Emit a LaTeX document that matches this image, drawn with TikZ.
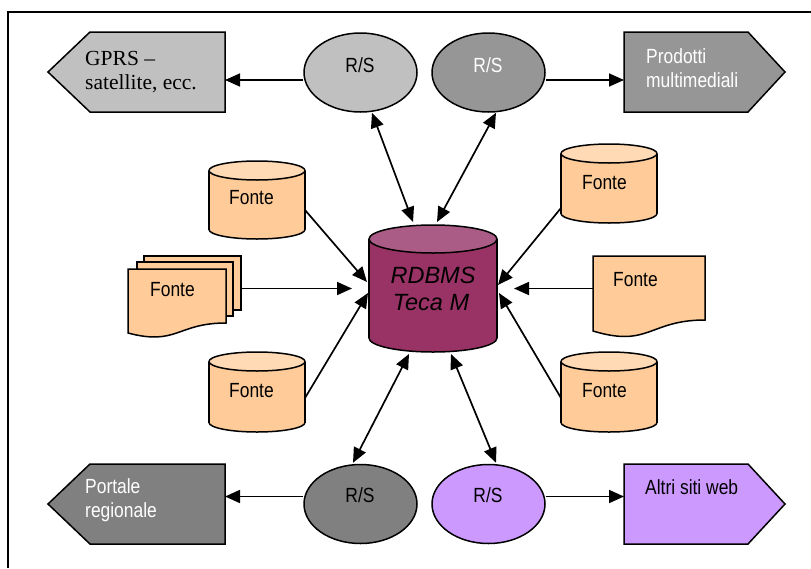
\documentclass[tikz,border=0pt]{standalone}
\usepackage{fontspec}
\setmainfont{Liberation Serif}
\newfontfamily\labelfont[FakeStretch=0.85]{Liberation Sans}
\newfontfamily\dbfont{Liberation Sans}
\usetikzlibrary{arrows.meta,calc,shapes.geometric}

\definecolor{grayA}{HTML}{C0C0C0}
\definecolor{grayB}{HTML}{969696}
\definecolor{grayC}{HTML}{808080}
\definecolor{lilac}{HTML}{CC99FF}
\definecolor{peach}{HTML}{FFCC99}
\definecolor{peachtop}{HTML}{FFDAB4}
\definecolor{plum}{HTML}{993366}
\definecolor{plumtop}{HTML}{AA5C86}

% upright cylinder: centre x, top y, width, height, end radius, body colour, lid colour
\newcommand\drawcyl[7]{%
  \pgfmathsetmacro\cyA{#1-#3/2}%
  \pgfmathsetmacro\cyB{#1+#3/2}%
  \pgfmathsetmacro\cyT{#2+#5}%
  \pgfmathsetmacro\cyD{#2+#4-#5}%
  \pgfmathsetmacro\cyR{#3/2}%
  \filldraw[shapeline, fill=#6] (#1,\cyD) ellipse [x radius=\cyR, y radius=#5];
  \fill[#6] (\cyA,\cyT) rectangle (\cyB,\cyD);
  \draw[shapeline] (\cyA,\cyT) -- (\cyA,\cyD) (\cyB,\cyT) -- (\cyB,\cyD);
  \filldraw[shapeline, fill=#7] (#1,\cyT) ellipse [x radius=\cyR, y radius=#5];
}

\begin{document}
\begin{tikzpicture}[x=1pt, y=-1pt,
  shapeline/.style={draw=black, line width=1.5pt, line join=miter},
  hit/.style 2 args={inner sep=0, outer sep=0, minimum width=#1, minimum height=#2},
  rsnode/.style={ellipse, shapeline, fill=#1, inner sep=0, minimum width=113, minimum height=79},
  txt/.style={font=\labelfont\fontsize{20.5}{24}\selectfont, inner sep=0, anchor=base west},
  ctxt/.style={txt, anchor=base},
  serif/.style={font=\fontsize{21.5}{24}\selectfont, inner sep=0, anchor=base west},
  dbtxt/.style={font=\dbfont\itshape\fontsize{23.5}{27}\selectfont, inner sep=0, anchor=base},
  arr/.style={line width=1.7pt, -{Triangle[length=15pt,width=13pt]}},
  darr/.style={line width=1.7pt, {Triangle[length=15pt,width=13pt]}-{Triangle[length=15pt,width=13pt]}}
]
\useasboundingbox (0,0) rectangle (811,568);

% outer frame
\draw[line width=2.2pt, line join=miter] (8,568) -- (8,12) -- (811,12);

% ---- output targets (pentagon tags)
\node[hit={135}{80}] (gprs) at (157.5,72) {};
\filldraw[shapeline, fill=grayA] (gprs.north west) -- (gprs.north east) -- (gprs.south east)
  -- (gprs.south west) -- ($(gprs.west)+(-42,0)$) -- cycle;
\node[hit={124}{80}] (prod) at (686,72) {};
\filldraw[shapeline, fill=grayB] (prod.north west) -- (prod.north east) -- ($(prod.east)+(37,0)$)
  -- (prod.south east) -- (prod.south west) -- cycle;
\node[hit={135}{80}] (port) at (157.5,504) {};
\filldraw[shapeline, fill=grayC] (port.north west) -- (port.north east) -- (port.south east)
  -- (port.south west) -- ($(port.west)+(-42,0)$) -- cycle;
\node[hit={124}{80}] (altri) at (686,504) {};
\filldraw[shapeline, fill=lilac] (altri.north west) -- (altri.north east) -- ($(altri.east)+(37,0)$)
  -- (altri.south east) -- (altri.south west) -- cycle;

% ---- R/S ellipses
\node[rsnode=grayA] (rs1) at (360.5,72.5) {};
\node[rsnode=grayB] (rs2) at (488.5,72.5) {};
\node[rsnode=grayC] (rs3) at (360.5,504) {};
\node[rsnode=lilac] (rs4) at (488.5,504) {};

% ---- central database
\node[hit={128}{127}] (db) at (433,288.5) {};
\drawcyl{433}{225}{128}{127}{14}{plum}{plumtop}

% ---- source cylinders
\node[hit={96}{78}] (fl1) at (257,200) {};
\drawcyl{257}{161}{96}{78}{9.5}{peach}{peachtop}
\node[hit={96}{80}] (fl3) at (257,392) {};
\drawcyl{257}{352}{96}{80}{9.5}{peach}{peachtop}
\node[hit={96}{79}] (fr1) at (609,183.5) {};
\drawcyl{609}{144}{96}{79}{9.5}{peach}{peachtop}
\node[hit={96}{80}] (fr3) at (609,392) {};
\drawcyl{609}{352}{96}{80}{9.5}{peach}{peachtop}

% ---- multi-page document source
\node[hit={113}{81}] (fmd) at (184.5,296.5) {};
\filldraw[shapeline, fill=peach] (144,256) rectangle (241,310);
\filldraw[shapeline, fill=peach] (137,262) rectangle (233,316);
\filldraw[shapeline, fill=peach] (128,269) -- (226,269) -- (226,323)
  .. controls (177,323) and (177,346) .. (128,333) -- cycle;

% ---- single document source
\node[hit={112}{80}] (fdr) at (649,296) {};
\filldraw[shapeline, fill=peach] (593,256) -- (705,256) -- (705,320)
  .. controls (649,320) and (649,348) .. (593,331) -- cycle;

% ---- labels
\node[serif] (t-gprs1) at (85,65) {GPRS –};
\node[serif] (t-gprs2) at (85,89) {satellite, ecc.};
\node[txt, text=white] (t-prod1) at (646,63) {Prodotti};
\node[txt, text=white] (t-prod2) at (646,87) {multimediali};
\node[txt, text=white] (t-port1) at (85,493) {Portale};
\node[txt, text=white] (t-port2) at (85,517) {regionale};
\node[txt] (t-altri) at (645,494) {Altri siti web};
\node[ctxt] (t-rs1) at (360,72) {R/S};
\node[ctxt, text=white] (t-rs2) at (488,72) {R/S};
\node[ctxt] (t-rs3) at (360,502) {R/S};
\node[ctxt] (t-rs4) at (488,502) {R/S};
\node[dbtxt] (t-db1) at (433,283) {RDBMS};
\node[dbtxt] (t-db2) at (431,310) {Teca M};
\node[txt] (t-fl1) at (229,204) {Fonte};
\node[txt] (t-fmd) at (150,296) {Fonte};
\node[txt] (t-fl3) at (229,397) {Fonte};
\node[txt] (t-fr1) at (582,189) {Fonte};
\node[txt] (t-fdr) at (613,286) {Fonte};
\node[txt] (t-fr3) at (582,397) {Fonte};

% ---- connectors
\draw[arr] ($(rs1.west)+(0,7.5)$) -- ($(gprs.east)+(0,8)$);
\draw[arr] ($(rs2.east)+(0,7.5)$) -- ($(prod.west)+(0,8)$);
\draw[arr] ($(rs3.west)+(0,-7.5)$) -- ($(port.east)+(0,-7.5)$);
\draw[arr] ($(rs4.east)+(0,-7.5)$) -- ($(altri.west)+(0,-7.5)$);

\draw[darr] ($(rs1.south)+(11.5,0)$) -- ($(db.north)+(-20,-3)$);
\draw[darr] ($(rs2.south)+(7.5,0)$) -- ($(db.north)+(4,-3)$);
\draw[darr] ($(rs3.north)+(-7.5,-1)$) -- ($(db.south)+(-24,2)$);
\draw[darr] ($(rs4.north)+(7.5,-1)$) -- ($(db.south)+(18,2)$);

\draw[arr] ($(fl1.east)+(0,10)$) -- ($(db.west)+(-2,-6.5)$);
\draw[arr] ($(fl3.east)+(0,6)$) -- ($(db.west)+(-1,4.5)$);
\draw[arr] (fmd.east |- db.west) -- ($(db.west)+(-17,0)$);
\draw[arr] ($(fr1.west)+(0,24.5)$) -- ($(db.east)+(1,-3.5)$);
\draw[arr] ($(fr3.west)+(0,6)$) -- ($(db.east)+(2,4.5)$);
\draw[arr] (fdr.west |- db.east) -- ($(db.east)+(17,0)$);
\end{tikzpicture}
\end{document}
